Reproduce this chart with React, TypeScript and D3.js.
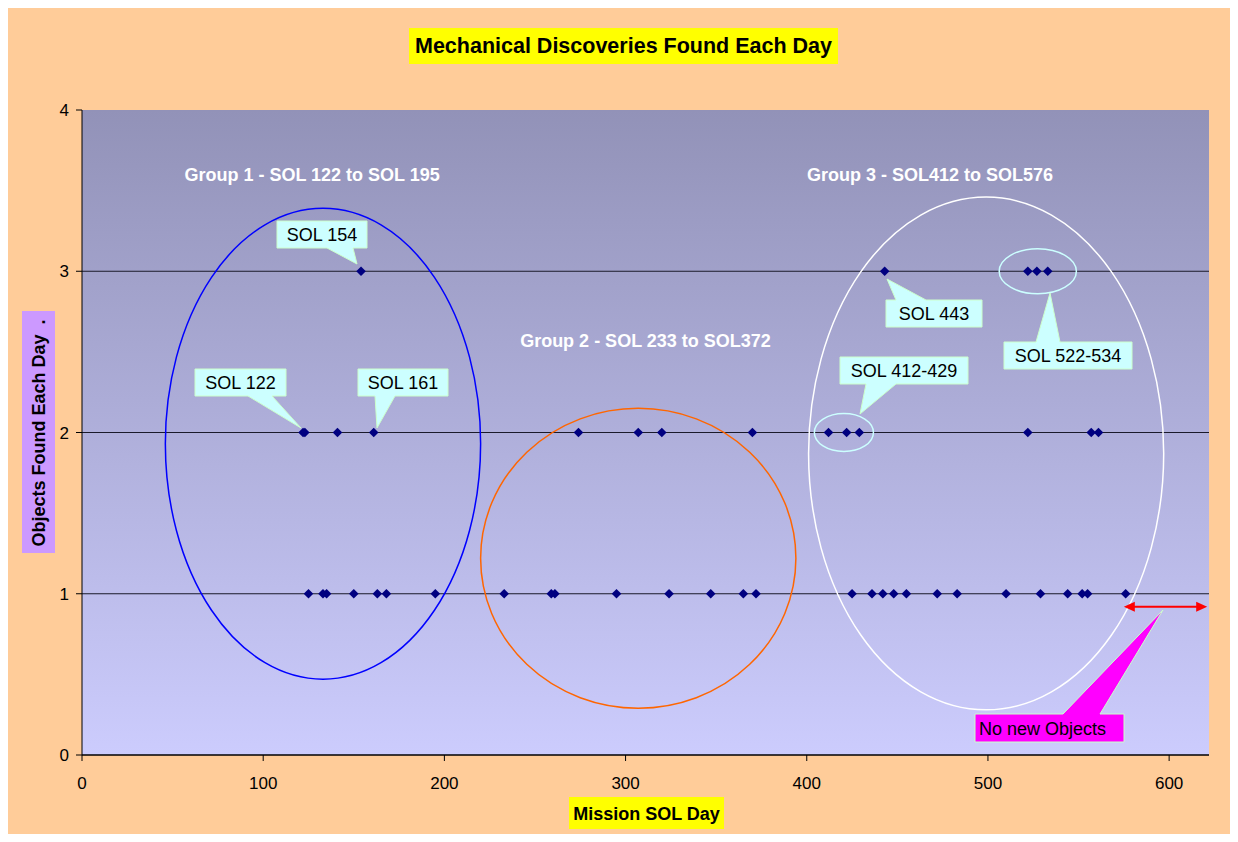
import React from "react";
import * as d3 from "d3";

// ---- data ----
const level1Sols = [125, 133, 135, 150, 163, 168, 195, 233, 259, 261, 295, 324, 347, 365, 372, 425, 436, 442, 448, 455, 472, 483, 510, 529, 544, 552, 555, 576];
const level2Sols = [122, 123, 141, 161, 274, 307, 320, 370, 412, 422, 429, 522, 557, 561];
const level3Sols = [154, 443, 522, 527, 533];
const xTicks = [0, 100, 200, 300, 400, 500, 600];
const yTicks = [0, 1, 2, 3, 4];
const gridValues = [1, 2, 3];

const groupLabels = [
  { text: "Group 1 - SOL 122 to SOL 195", sol: 127, y: 3.6 },
  { text: "Group 2 - SOL 233 to SOL372", sol: 311, y: 2.57 },
  { text: "Group 3 - SOL412 to SOL576", sol: 468, y: 3.6 },
];
const groupEllipses = [
  { cx: 133, cy: 1.93, rx: 87, ry: 1.46, color: "#0000FF" },
  { cx: 307, cy: 1.22, rx: 87, ry: 0.93, color: "#FF6600" },
  { cx: 499, cy: 1.87, rx: 98, ry: 1.59, color: "#FFFFFF" },
];
const subEllipses = [
  { cx: 420.5, cy: 2.0, rx: 16.3, ry: 0.118 },
  { cx: 527.5, cy: 3.0, rx: 21.3, ry: 0.14 },
];

export default function App() {
  const W = 1222, H = 826;
  const x = d3.scaleLinear().domain([0, 622]).range([82, 1209]);
  const y = d3.scaleLinear().domain([0, 4]).range([755, 110]);

  const points = [
    ...level1Sols.map((s) => ({ s, v: 1 })),
    ...level2Sols.map((s) => ({ s, v: 2 })),
    ...level3Sols.map((s) => ({ s, v: 3 })),
  ];
  const diamond = (cx: number, cy: number, r = 4.8) =>
    `M${cx},${cy - r}L${cx + r},${cy}L${cx},${cy + r}L${cx - r},${cy}Z`;

  type Callout = { text: string; x0: number; y0: number; x1: number; y1: number; edge: "top" | "bottom"; a: number; b: number; tx: number; ty: number; fill: string; left?: boolean };
  const callouts: Callout[] = [
    { text: "SOL 154", x0: 277, y0: 221, x1: 367, y1: 248, edge: "bottom", a: 327, b: 353, tx: 357, ty: 264, fill: "#CCFFFF" },
    { text: "SOL 122", x0: 195, y0: 369, x1: 286, y1: 396, edge: "bottom", a: 248, b: 272, tx: 301, ty: 428, fill: "#CCFFFF" },
    { text: "SOL 161", x0: 358, y0: 369, x1: 448, y1: 396, edge: "bottom", a: 375, b: 395, tx: 377, ty: 428, fill: "#CCFFFF" },
    { text: "SOL 443", x0: 886, y0: 300, x1: 982, y1: 327, edge: "top", a: 896, b: 926, tx: 887, ty: 279, fill: "#CCFFFF" },
    { text: "SOL 412-429", x0: 840, y0: 357, x1: 968, y1: 384, edge: "bottom", a: 866, b: 896, tx: 860, ty: 414, fill: "#CCFFFF" },
    { text: "SOL 522-534", x0: 1004, y0: 342, x1: 1132, y1: 369, edge: "top", a: 1036, b: 1060, tx: 1050, ty: 293, fill: "#CCFFFF" },
    { text: "No new Objects", x0: 975, y0: 714, x1: 1124, y1: 742, edge: "top", a: 1063, b: 1100, tx: 1163, ty: 610, fill: "#FF00FF", left: true },
  ];
  const calloutPath = (c: Callout) =>
    c.edge === "bottom"
      ? `M${c.x0},${c.y0}H${c.x1}V${c.y1}H${c.b}L${c.tx},${c.ty}L${c.a},${c.y1}H${c.x0}Z`
      : `M${c.x0},${c.y0}H${c.a}L${c.tx},${c.ty}L${c.b},${c.y0}H${c.x1}V${c.y1}H${c.x0}Z`;

  const font = "'Liberation Sans', Arial, sans-serif";
  const arrowY = y(1) + 13;
  const arrowX0 = x(575), arrowX1 = x(621);

  return (
    <svg width={W} height={H} style={{ display: "block" }} fontFamily={font}>
      <defs>
        <linearGradient id="plotBg" x1="0" y1="0" x2="0" y2="1">
          <stop offset="0" stopColor="#9292B8" />
          <stop offset="1" stopColor="#CCCCFD" />
        </linearGradient>
      </defs>
      <g transform="translate(-8,-8)">
        <rect x={8} y={8} width={W} height={H} fill="#FFCC99" />
        <rect x={x(0)} y={y(4)} width={x(622) - x(0)} height={y(0) - y(4)} fill="url(#plotBg)" />
        {gridValues.map((g) => (
          <line key={g} x1={x(0)} x2={x(622)} y1={y(g)} y2={y(g)} stroke="#1a1a2a" strokeWidth={1} />
        ))}
        <line x1={x(0)} x2={x(0)} y1={y(4)} y2={y(0)} stroke="#000" strokeWidth={1} />
        <line x1={x(0)} x2={x(622)} y1={y(0)} y2={y(0)} stroke="#000" strokeWidth={1.5} />
        {yTicks.map((t) => (
          <g key={t}>
            <line x1={x(0) - 6} x2={x(0)} y1={y(t)} y2={y(t)} stroke="#000" />
            <text x={x(0) - 13} y={y(t) + 6} fontSize={17} textAnchor="end" fill="#000">{t}</text>
          </g>
        ))}
        {xTicks.map((t) => (
          <g key={t}>
            <line x1={x(t)} x2={x(t)} y1={y(0)} y2={y(0) + 6} stroke="#000" />
            <text x={x(t)} y={y(0) + 34} fontSize={17} textAnchor="middle" fill="#000">{t}</text>
          </g>
        ))}

        {groupEllipses.map((e, i) => (
          <ellipse key={i} cx={x(e.cx)} cy={y(e.cy)} rx={x(e.rx) - x(0)} ry={y(0) - y(e.ry)} fill="none" stroke={e.color} strokeWidth={1.5} />
        ))}
        {subEllipses.map((e, i) => (
          <ellipse key={i} cx={x(e.cx)} cy={y(e.cy)} rx={x(e.rx) - x(0)} ry={y(0) - y(e.ry)} fill="none" stroke="#CCFFFF" strokeWidth={1.5} />
        ))}

        {groupLabels.map((g, i) => (
          <text key={i} x={x(g.sol)} y={y(g.y) + 6} fontSize={18} fontWeight="bold" fill="#FFFFFF" textAnchor="middle">{g.text}</text>
        ))}

        {points.map((p, i) => (
          <path key={i} d={diamond(x(p.s), y(p.v))} fill="#000080" />
        ))}

        <line x1={arrowX0 + 8} x2={arrowX1 - 8} y1={arrowY} y2={arrowY} stroke="#FF0000" strokeWidth={2} />
        <path d={`M${arrowX0},${arrowY}L${arrowX0 + 11},${arrowY - 5}L${arrowX0 + 11},${arrowY + 5}Z`} fill="#FF0000" />
        <path d={`M${arrowX1},${arrowY}L${arrowX1 - 11},${arrowY - 5}L${arrowX1 - 11},${arrowY + 5}Z`} fill="#FF0000" />

        {callouts.map((c, i) => (
          <g key={i}>
            <path d={calloutPath(c)} fill={c.fill} stroke="#CCFFCC" strokeWidth={1} />
            <text x={c.left ? c.x0 + 4 : (c.x0 + c.x1) / 2} y={(c.y0 + c.y1) / 2 + 6.5} fontSize={18} textAnchor={c.left ? "start" : "middle"} fill="#000">{c.text}</text>
          </g>
        ))}

        <rect x={409} y={28} width={429} height={36} fill="#FFFF00" />
        <text x={623.5} y={53} fontSize={21.5} fontWeight="bold" textAnchor="middle" fill="#000">Mechanical Discoveries Found Each Day</text>

        <rect x={22} y={311} width={33} height={242} fill="#CC99FF" />
        <text transform={`translate(45,433) rotate(-90)`} fontSize={18} fontWeight="bold" textAnchor="middle" fill="#000" xmlSpace="preserve">Objects Found Each Day  .</text>

        <rect x={569} y={797} width={155} height={32} fill="#FFFF00" />
        <text x={646.5} y={820} fontSize={18} fontWeight="bold" textAnchor="middle" fill="#000">Mission SOL Day</text>
      </g>
    </svg>
  );
}
